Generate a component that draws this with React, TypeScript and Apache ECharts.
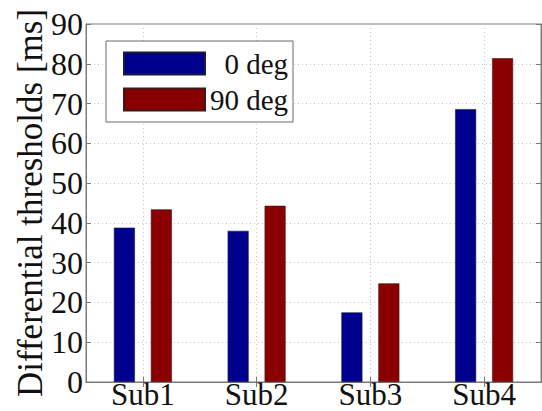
import React, { useEffect, useRef } from "react";
import * as echarts from "echarts";

const categories = ["Sub1", "Sub2", "Sub3", "Sub4"];
const deg0 = [38.8, 38.0, 17.5, 68.6];
const deg90 = [43.4, 44.3, 24.8, 81.4];
const seriesNames = ["0 deg", "90 deg"];
const yMin = 0;
const yMax = 90;
const yStep = 10;

const FONT = "'Liberation Serif', 'Times New Roman', serif";

export default function App() {
  const ref = useRef<HTMLDivElement>(null);
  useEffect(() => {
    if (!ref.current) return;
    const chart = echarts.init(ref.current, null, { renderer: "svg" });
    const gridLine = { show: true, lineStyle: { color: "#c4c4c4", type: [1, 3], width: 1 } };
    chart.setOption({
      animation: false,
      backgroundColor: "#fff",
      textStyle: { fontFamily: FONT },
      grid: {
        left: 86, top: 24, width: 455, height: 358,
        show: true, borderColor: "#7a7a7a", borderWidth: 1,
        containLabel: false,
      },
      legend: {
        left: 106, top: 41, orient: "vertical",
        data: seriesNames,
        itemWidth: 81, itemHeight: 22, itemGap: 7,
        padding: [8, 5, 8, 17],
        borderColor: "#6a6a6a", borderWidth: 1, backgroundColor: "#fff",
        icon: "rect",
        formatter: (n: string) => `{r|${n}}`,
        textStyle: {
          rich: {
            r: { width: 78, align: "right", fontSize: 29, lineHeight: 22, fontFamily: FONT, color: "#111" },
          },
        },
      },
      xAxis: [
        {
          type: "category", data: categories, position: "bottom",
          axisLine: { show: true, lineStyle: { color: "#7a7a7a" } },
          axisTick: { show: true, inside: true, alignWithLabel: true, length: 5, lineStyle: { color: "#7a7a7a" } },
          axisLabel: { fontSize: 31, color: "#111", fontFamily: FONT, margin: 12, verticalAlign: "middle" },
          splitLine: { ...gridLine, alignWithLabel: true },
        },
        {
          type: "category", data: categories, position: "top",
          axisLine: { show: true, lineStyle: { color: "#7a7a7a" } },
          axisTick: { show: true, inside: true, alignWithLabel: true, length: 5, lineStyle: { color: "#7a7a7a" } },
          axisLabel: { show: false },
          splitLine: { show: false },
        },
      ],
      yAxis: [
        {
          type: "value", min: yMin, max: yMax, interval: yStep, position: "left",
          name: "Differential thresholds [ms]", nameLocation: "middle", nameGap: 38,
          nameMoveOverlap: false,
          nameTextStyle: { fontSize: 35, color: "#111", fontFamily: FONT },
          axisLine: { show: true, lineStyle: { color: "#7a7a7a" } },
          axisTick: { show: true, inside: true, length: 5, lineStyle: { color: "#7a7a7a" } },
          axisLabel: { fontSize: 32, color: "#111", fontFamily: FONT, margin: 3 },
          splitLine: gridLine,
        },
        {
          type: "value", min: yMin, max: yMax, interval: yStep, position: "right",
          axisLine: { show: true, lineStyle: { color: "#7a7a7a" } },
          axisTick: { show: true, inside: true, length: 5, lineStyle: { color: "#7a7a7a" } },
          axisLabel: { show: false },
          splitLine: { show: false },
        },
      ],
      series: [
        {
          name: seriesNames[0], type: "bar", data: deg0, barWidth: 21, barGap: "76%",
          itemStyle: { color: "#00008f", borderColor: "#1a1a3a", borderWidth: 0.6 },
        },
        {
          name: seriesNames[1], type: "bar", data: deg90, barWidth: 21, barGap: "76%",
          itemStyle: { color: "#8a0000", borderColor: "#3a1a1a", borderWidth: 0.6 },
        },
      ],
    });
    return () => chart.dispose();
  }, []);
  return (
    <div
      ref={ref}
      style={{ position: "absolute", left: 0, top: 0, width: 542, height: 411 }}
    />
  );
}
